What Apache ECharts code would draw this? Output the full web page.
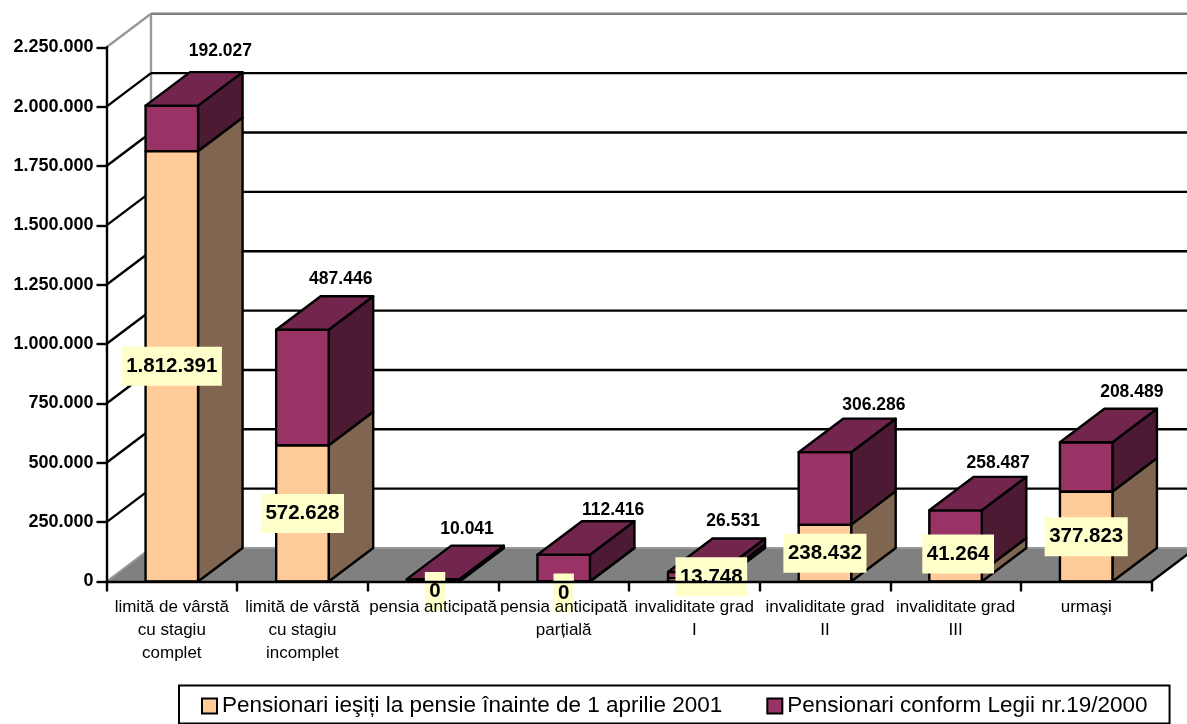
<!DOCTYPE html>
<html><head><meta charset="utf-8">
<style>html,body{margin:0;padding:0;background:#fff}#c{width:1187px;height:724px}</style>
<script src="https://cdn.jsdelivr.net/npm/echarts@6/dist/echarts.min.js"></script>
</head><body><div id="c"></div>
<script>
const categories = ['limită de vârstă\ncu stagiu\ncomplet','limită de vârstă\ncu stagiu\nincomplet','pensia anticipată','pensia anticipată\nparțială','invaliditate grad\nI','invaliditate grad\nII','invaliditate grad\nIII','urmaşi'];
const seriesBefore = [1812391,572628,0,0,13748,238432,41264,377823];
const seriesLaw = [192027,487446,10041,112416,26531,306286,258487,208489];
const yTicks = [0,250000,500000,750000,1000000,1250000,1500000,1750000,2000000,2250000];
const nameBefore = 'Pensionari ieşiți la pensie înainte de 1 aprilie 2001';
const nameLaw = 'Pensionari conform Legii nr.19/2000';

// drawing style
const FONT = '"Liberation Sans", Arial, sans-serif';
const DX = 44.5, DY = -33.5, BAR_RATIO = 0.402;
const LINE = {stroke:'#000', lineWidth:2.4, lineJoin:'round'};
const beforeShift = {2:[2,10],3:[0,11.5],4:[17,-3],6:[2.6,-22.6]};
const lawShift = [[48.5,-54.6],[38.3,-50.5],[34,-50.1],[49.4,-44.8],[38.8,-50.9],[48.9,-47.2],[42.6,-47.3],[45.6,-50.6]];
const fmt = v => String(v).replace(/\B(?=(\d{3})+$)/g,'.');
const poly = (pts, fill, z2) => ({type:'polygon', z2:z2||1, shape:{points:pts}, style:Object.assign({fill}, LINE)});

function renderFrame(params, api){
  const v = api.value(0), cs = params.coordSys;
  const L = cs.x, R = cs.x + cs.width, y = api.coord([0, v])[1];
  const out = [];
  const isTop = v === yTicks[yTicks.length-1];
  if (v === 0){
    out.push({type:'polygon', shape:{points:[[L,y],[R,y],[R+DX,y+DY],[L+DX,y+DY]]}, style:{fill:'#808080', stroke:'none'}});
    out.push({type:'line', shape:{x1:L,y1:y,x2:L+DX,y2:y+DY}, style:{stroke:'#999', lineWidth:2}});
    out.push({type:'line', shape:{x1:L+DX,y1:y+DY,x2:R+DX,y2:y+DY}, style:{stroke:'#999', lineWidth:2}});
    out.push({type:'line', shape:{x1:R,y1:y,x2:R+DX,y2:y+DY}, style:{stroke:'#000', lineWidth:2.4}});
    const t = cs.y;
    out.push({type:'line', shape:{x1:L+DX,y1:y+DY,x2:L+DX,y2:t+DY}, style:{stroke:'#999', lineWidth:2.4}});
  } else {
    const c = isTop ? '#808080' : '#000';
    out.push({type:'line', shape:{x1:L,y1:y,x2:L+DX,y2:y+DY}, style:{stroke:isTop?'#999':'#000', lineWidth:2.4}});
    out.push({type:'line', shape:{x1:L+DX,y1:y+DY,x2:R+DX,y2:y+DY}, style:{stroke:c, lineWidth:2.4}});
  }
  return {type:'group', children:out};
}

function segment(api, idx, base, val, front, side, top){
  const cx = api.coord([idx, base])[0], w = api.size([1,0])[0]*BAR_RATIO;
  const x0 = cx-w/2, x1 = cx+w/2;
  const yb = api.coord([idx, base])[1], yt = api.coord([idx, base+val])[1];
  const ch = [
    poly([[x1,yb],[x1+DX,yb+DY],[x1+DX,yt+DY],[x1,yt]], side),
    poly([[x0,yb],[x1,yb],[x1,yt],[x0,yt]], front)
  ];
  if (top) ch.push(poly([[x0,yt],[x1,yt],[x1+DX,yt+DY],[x0+DX,yt+DY]], top));
  return {ch, cx, yb, yt};
}

function renderBefore(params, api){
  const idx = api.value(0), val = api.value(1);
  const s = segment(api, idx, 0, val, '#FFCC99', '#806650');
  const sh = beforeShift[idx] || [0,0];
  s.ch.push({type:'text', z2:100, style:{
    x:s.cx+sh[0], y:(s.yb+s.yt)/2+sh[1], text:fmt(val), align:'center', verticalAlign:'middle',
    font:'bold 20.5px '+FONT, fill:'#000', backgroundColor:'#FFFFCC', padding:[9,4.5], lineHeight:21}});
  return {type:'group', children:s.ch};
}
function renderLaw(params, api){
  const idx = api.value(0), base = api.value(1), val = api.value(2);
  const s = segment(api, idx, base, val, '#993366', '#4D1A33', '#73264D');
  const sh = lawShift[idx];
  s.ch.push({type:'text', z2:100, style:{
    x:s.cx+sh[0], y:s.yt+sh[1], text:fmt(val), align:'center', verticalAlign:'middle',
    font:'bold 17.5px '+FONT, fill:'#000'}});
  return {type:'group', children:s.ch};
}

const chart = echarts.init(document.getElementById('c'), null, {renderer:'canvas'});
chart.setOption({
  animation:false,
  backgroundColor:'#fff',
  grid:{left:106.5, top:47.3, width:1045, height:534.2, containLabel:false},
  xAxis:{type:'category', data:categories, z:10, boundaryGap:true,
    axisLine:{lineStyle:{color:'#000',width:2.4}},
    axisTick:{show:true,length:10,lineStyle:{color:'#000',width:2.4},alignWithLabel:false},
    axisLabel:{interval:0,margin:14,color:'#000',fontFamily:FONT,fontSize:17,lineHeight:23,hideOverlap:false}},
  yAxis:{type:'value', min:0, max:2250000, interval:250000, z:10,
    axisLine:{show:true,lineStyle:{color:'#000',width:2.4}},
    axisTick:{show:true,length:10,lineStyle:{color:'#000',width:2.4}},
    splitLine:{show:false},
    axisLabel:{margin:13,color:'#000',fontFamily:FONT,fontWeight:'bold',fontSize:18,formatter:v=>fmt(v)}},
  legend:{left:179, top:685.5, orient:'horizontal', data:[nameBefore,nameLaw], selectedMode:false,
    icon:'rect', itemWidth:15, itemHeight:15, itemGap:44,
    borderColor:'#000', borderWidth:2, padding:[9,22,6,22],
    itemStyle:{borderColor:'#000',borderWidth:2},
    textStyle:{color:'#000',fontFamily:FONT,fontSize:22.5}},
  series:[
    {type:'custom', z:1, silent:true, renderItem:renderFrame, data:yTicks.map(v=>[v]), encode:{y:0}},
    {type:'custom', name:nameLaw, z:2, itemStyle:{color:'#993366'}, renderItem:renderLaw,
      data:seriesLaw.map((v,i)=>[i,seriesBefore[i],v]), encode:{x:0,y:[1,2]}},
    {type:'custom', name:nameBefore, z:3, itemStyle:{color:'#FFCC99'}, renderItem:renderBefore,
      data:seriesBefore.map((v,i)=>[i,v]), encode:{x:0,y:1}}
  ]
});
</script></body></html>
